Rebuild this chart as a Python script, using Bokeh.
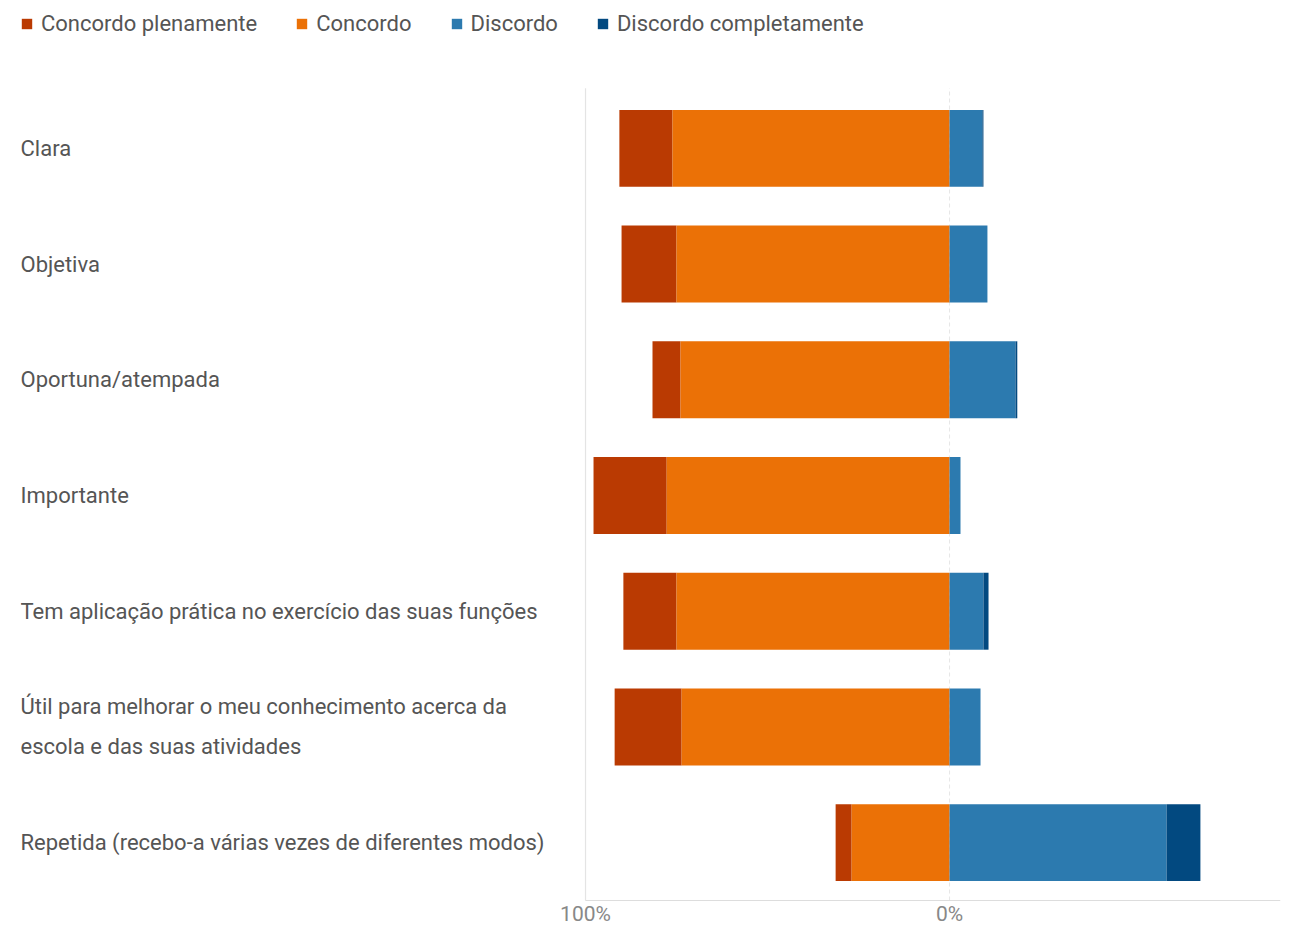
import numpy as np
from bokeh.plotting import figure
from bokeh.models import Range1d, Legend, LegendItem, ColumnDataSource
from bokeh.core.properties import value
from bokeh.embed import file_html
from bokeh.resources import INLINE

categories = [
    "Clara",
    "Objetiva",
    "Oportuna/atempada",
    "Importante",
    "Tem aplicação prática no exercício das suas funções",
    "Útil para melhorar o meu conhecimento acerca da\nescola e das suas atividades",
    "Repetida (recebo-a várias vezes de diferentes modos)",
]
concordo_plenamente = [14.6, 15.1, 7.7, 20.1, 14.6, 18.4, 4.4]
concordo = [76.1, 75.0, 73.9, 77.7, 75.0, 73.6, 26.9]
discordo = [9.0, 10.4, 18.1, 3.0, 9.3, 8.5, 59.6]
discordo_completamente = [0.3, 0.0, 0.5, 0.0, 1.4, 0.0, 9.3]
series_names = ["Concordo plenamente", "Concordo", "Discordo", "Discordo completamente"]
colors = ["#BA3A02", "#EB7106", "#2C7AAF", "#024980"]
tick_values = [-100, 0]
tick_labels = ["100%", "0%"]

n = len(categories)
ypos = np.arange(n)[::-1].astype(float)  # first category at top
cp = np.array(concordo_plenamente)
c = np.array(concordo)
d = np.array(discordo)
dc = np.array(discordo_completamente)

W, H = 1283, 927
x_start, x_end = -255.2, 90.9
row_px = 810.0 / n
y_top = (n - 0.5) + 90.0 / row_px
y_bot = -0.5 - (H - 900.0) / row_px

p = figure(
    width=W, height=H,
    y_range=Range1d(y_bot, y_top),
    x_range=Range1d(x_start, x_end),
    output_backend="svg", toolbar_location=None,
    min_border_left=20, min_border_right=3, min_border_top=0, min_border_bottom=0,
)
p.outline_line_color = None
p.background_fill_color = "white"
p.xgrid.visible = False
p.ygrid.visible = False
p.xaxis.visible = False
p.yaxis.visible = False

# gridlines
p.segment(x0=[-100], x1=[-100], y0=[-0.5], y1=[n - 0.5 + 0.02], line_color="#e4e4e4", line_width=1.2)
p.segment(x0=[0], x1=[0], y0=[-0.5], y1=[n - 0.5 + 0.02], line_color="#e6e6e6", line_width=1, line_dash="4 3")
# axis baseline
p.segment(x0=[-100], x1=[x_end], y0=[-0.5], y1=[-0.5], line_color="#dddddd", line_width=1.2)

bh = 0.665
src = ColumnDataSource(dict(
    y=ypos,
    cp_l=-(c + cp), cp_r=-c,
    c_l=-c, c_r=np.zeros(n),
    d_l=np.zeros(n), d_r=d,
    dc_l=d, dc_r=d + dc,
))
r_cp = p.hbar(y="y", left="cp_l", right="cp_r", height=bh, source=src, fill_color=colors[0], line_color=None)
r_c = p.hbar(y="y", left="c_l", right="c_r", height=bh, source=src, fill_color=colors[1], line_color=None)
r_d = p.hbar(y="y", left="d_l", right="d_r", height=bh, source=src, fill_color=colors[2], line_color=None)
r_dc = p.hbar(y="y", left="dc_l", right="dc_r", height=bh, source=src, fill_color=colors[3], line_color=None)

# category labels
p.text(x=[x_start] * n, y=ypos, text=categories,
       text_align="left", text_baseline="middle", text_font=value("Roboto"),
       text_font_size="22px", text_color="#555555", text_line_height=1.6)

# x tick labels
p.text(x=tick_values, y=[-0.5 - 13.0 / row_px] * len(tick_values), text=tick_labels,
       text_align="center", text_baseline="middle", text_font=value("Roboto"),
       text_font_size="21px", text_color="#888888")

legend = Legend(
    items=[LegendItem(label=s, renderers=[r]) for s, r in zip(series_names, [r_cp, r_c, r_d, r_dc])],
    orientation="horizontal", location=(0, H - 10 - 26),
    label_text_font="Roboto", label_text_font_size="22px", label_text_color="#555555",
    glyph_width=13, glyph_height=13, label_standoff=8, spacing=38,
    padding=0, margin=0, border_line_color=None, background_fill_alpha=0,
)
p.add_layout(legend, "center")

open("out.html", "w").write(file_html(p, INLINE))
